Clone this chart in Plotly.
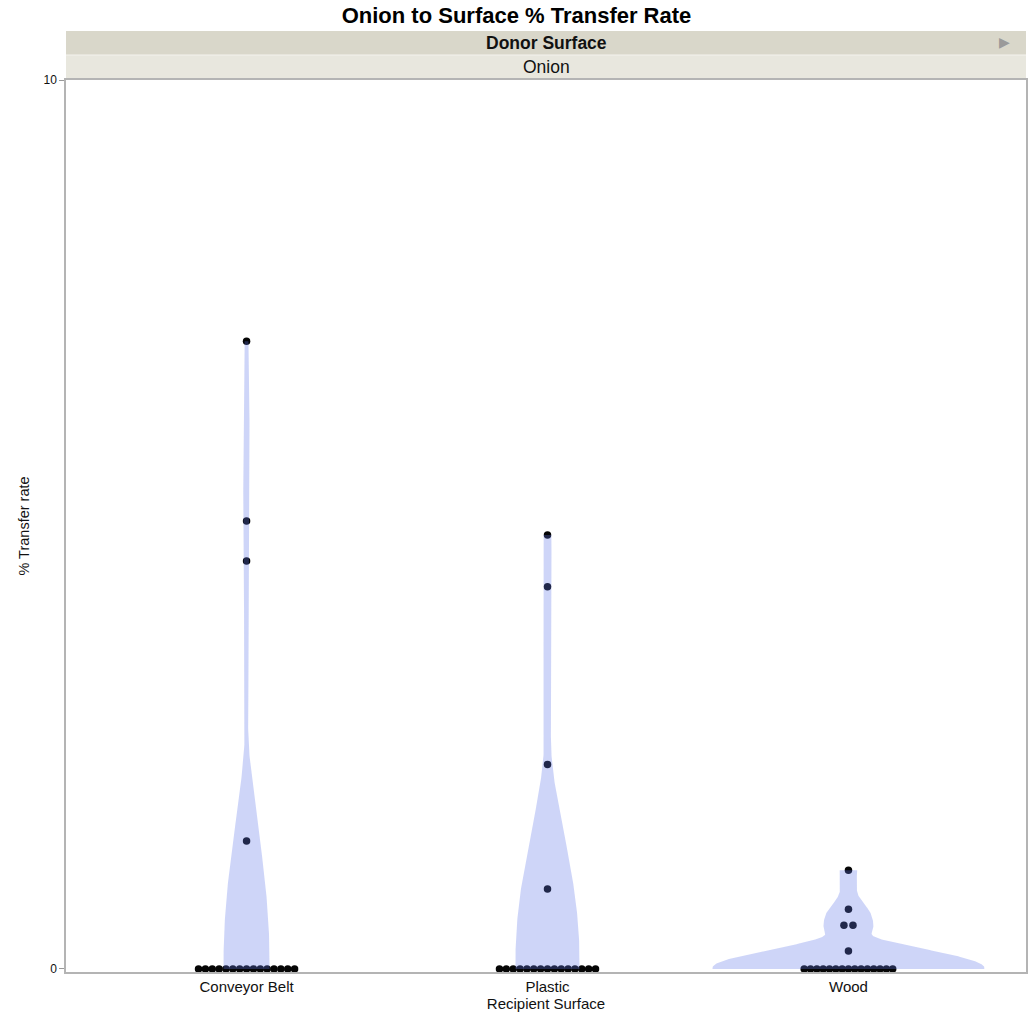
import numpy as np
import plotly.graph_objects as go

# ---------------- data ----------------
categories = ["Conveyor Belt", "Plastic", "Wood"]
conveyor_belt = [0, 0, 0, 0, 0, 0, 0, 0, 0, 0, 0, 0, 0, 0, 0, 1.44, 4.59, 5.04, 7.06]
plastic = [0, 0, 0, 0, 0, 0, 0, 0, 0, 0, 0, 0, 0, 0, 0, 0.90, 2.30, 4.30, 4.88]
wood = [0, 0, 0, 0, 0, 0, 0, 0, 0, 0, 0, 0, 0, 0, 0, 0.20, 0.49, 0.49, 0.67, 1.11]
y_ticks = [0, 10]

title_text = "Onion to Surface % Transfer Rate"
group_header = "Donor Surface"
group_value = "Onion"
x_title = "Recipient Surface"
y_title = "% Transfer rate"

# ---------------- style ----------------
bandwidths = [2.8, 2.6, 0.40]        # kernel smoothing per violin
violin_widths = [0.153, 0.213, 0.904]  # full violin width (x units)
swarm_steps = [0.0228, 0.0228, 0.021]
FONT = "Liberation Sans"
violin_fill = "rgba(97,119,232,0.31)"

series = [conveyor_belt, plastic, wood]

fig = go.Figure()

def biweight_density(vals, grid, h):
    vals = np.asarray(vals, float)
    u = (grid[:, None] - vals[None, :]) / h
    k = np.where(np.abs(u) < 1, (1 - u ** 2) ** 2, 0.0)
    return k.sum(axis=1)

# points (beeswarm for repeated values)
for i, vals in enumerate(series):
    xs, ys = [], []
    uniq = {}
    for v in vals:
        uniq.setdefault(v, 0)
        uniq[v] += 1
    for v, cnt in uniq.items():
        step = swarm_steps[i] if cnt > 2 else 0.03
        offs = (np.arange(cnt) - (cnt - 1) / 2) * step
        for o in offs:
            xs.append(i + o)
            ys.append(v)
    fig.add_trace(go.Scatter(x=xs, y=ys, mode="markers",
                             marker=dict(size=7.5, color="#050505"),
                             cliponaxis=False, showlegend=False, hoverinfo="y"))

# violins drawn over the points
for i, vals in enumerate(series):
    lo, hi = min(vals), max(vals)
    grid = np.linspace(lo, hi, 300)
    d = biweight_density(vals, grid, bandwidths[i])
    hw = d / d.max() * violin_widths[i] / 2
    xs = np.concatenate([i + hw, (i - hw)[::-1]])
    ys = np.concatenate([grid, grid[::-1]])
    fig.add_trace(go.Scatter(x=xs, y=ys, mode="lines", fill="toself",
                             fillcolor=violin_fill, line=dict(width=0),
                             showlegend=False, hoverinfo="skip"))

plot_h = 1014 - 80 - 42

def py(px):
    # pixel y (from top) -> paper coordinate
    return (972 - px) / plot_h

shapes = [
    dict(type="rect", xref="paper", yref="paper", x0=0, x1=1, y0=py(55), y1=py(31),
         fillcolor="#d9d7ca", line=dict(width=0), layer="below"),
    dict(type="rect", xref="paper", yref="paper", x0=0, x1=1, y0=py(80), y1=py(55),
         fillcolor="#e8e7de", line=dict(width=0), layer="below"),
    dict(type="line", xref="paper", yref="paper", x0=0, x1=1, y0=py(55), y1=py(55),
         line=dict(color="#f4f3ee", width=1)),
]

annotations = [
    dict(text="<b>" + group_header + "</b>", xref="paper", yref="paper", x=0.5, y=py(43),
         showarrow=False, font=dict(family=FONT, size=17.5, color="#111"), yanchor="middle"),
    dict(text=group_value, xref="paper", yref="paper", x=0.5, y=py(67),
         showarrow=False, font=dict(family=FONT, size=17.5, color="#111"), yanchor="middle"),
    dict(text="▶", xref="paper", yref="paper", x=(1012 - 66) / 960, y=py(42),
         showarrow=False, font=dict(family="DejaVu Sans", size=14, color="#9a9a9a"),
         yanchor="middle"),
]

fig.update_layout(
    width=1033, height=1014,
    margin=dict(l=66, r=7, t=80, b=42),
    paper_bgcolor="white", plot_bgcolor="white",
    title=dict(text="<b>" + title_text + "</b>", x=0.5, xanchor="center",
               y=1 - 15 / 1014, yanchor="middle",
               font=dict(family=FONT, size=22, color="black")),
    shapes=shapes, annotations=annotations,
    font=dict(family=FONT, color="#111"),
    xaxis=dict(range=[-0.6, 2.59], tickvals=[0, 1, 2], ticktext=categories,
               showgrid=False, zeroline=False, showline=True, linecolor="#b4b4b4",
               linewidth=1.5, mirror=True, ticks="", tickfont=dict(size=15, color="#111"),
               automargin=False,
               title=dict(text=x_title, font=dict(size=15), standoff=4)),
    yaxis=dict(range=[-0.035, 10], tickvals=y_ticks, ticktext=[str(t) for t in y_ticks],
               showgrid=False, zeroline=False, showline=True, linecolor="#b4b4b4",
               linewidth=1.5, mirror=True, ticks="outside", ticklen=5, tickcolor="#999",
               tickfont=dict(size=12, color="#111"), automargin=False,
               title=dict(text=y_title, font=dict(size=14.5), standoff=10)),
)

fig.write_html("out.html")
